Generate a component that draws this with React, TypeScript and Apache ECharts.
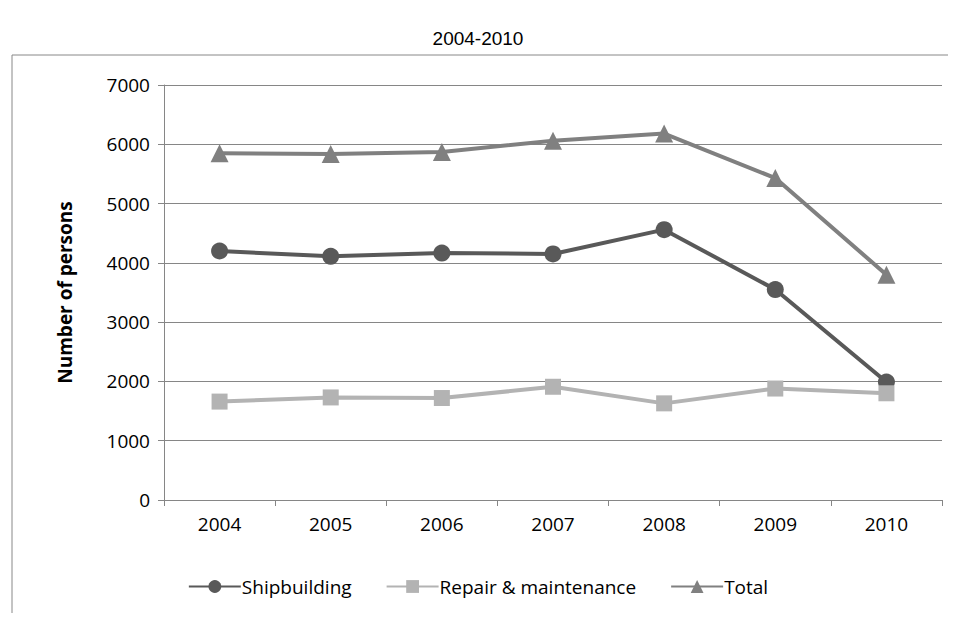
import React, { useEffect, useRef } from "react";
import * as echarts from "echarts";

const categories = ["2004", "2005", "2006", "2007", "2008", "2009", "2010"];
const shipbuilding = [4200, 4110, 4165, 4150, 4560, 3550, 1990];
const repair = [1660, 1730, 1720, 1910, 1630, 1880, 1800];
const total = [5850, 5835, 5870, 6060, 6180, 5430, 3800];

export default function App() {
  const ref = useRef<HTMLDivElement>(null);
  useEffect(() => {
    const chart = echarts.init(ref.current!, null, { renderer: "svg" });
    const font = "'Open Sans', 'Liberation Sans', Arial, sans-serif";
    const mk = (name: string, data: number[], color: string, symbol: string, size: number) => ({
      name, type: "line", data, symbol, symbolSize: size,
      lineStyle: { color, width: 4 }, itemStyle: { color },
    });
    chart.setOption({
      animation: false,
      title: { text: "2004-2010", left: "center", top: 16, textStyle: { fontFamily: "'Liberation Sans', Arial", fontSize: 19, fontWeight: "normal", color: "#000" } },
      graphic: [
        { type: "line", shape: { x1: 4, y1: 47, x2: 960, y2: 47 }, style: { stroke: "#888", lineWidth: 1 } },
        { type: "line", shape: { x1: 4, y1: 47, x2: 4, y2: 621 }, style: { stroke: "#888", lineWidth: 1 } },
      ],
      legend: {
        bottom: 12, left: "center", itemWidth: 52, itemHeight: 16, itemGap: 34,
        textStyle: { fontFamily: font, fontSize: 19, color: "#000", padding: [0, 0, 0, -4] },
        data: ["Shipbuilding", "Repair & maintenance", "Total"],
      },
      grid: { left: 156, right: 6, top: 77, bottom: 113 },
      xAxis: {
        type: "category", data: categories, boundaryGap: true,
        axisLine: { lineStyle: { color: "#868686" } },
        axisTick: { show: true, length: 6, lineStyle: { color: "#868686" } },
        axisLabel: { fontFamily: font, fontSize: 19, color: "#000", margin: 14 },
      },
      yAxis: {
        type: "value", min: 0, max: 7000, interval: 1000,
        name: "Number of persons", nameLocation: "middle", nameGap: 90,
        nameTextStyle: { fontFamily: font, fontSize: 19, fontWeight: "bold", color: "#000" },
        axisLine: { show: true, lineStyle: { color: "#868686" } },
        axisTick: { show: true, length: 6, lineStyle: { color: "#868686" } },
        axisLabel: { fontFamily: font, fontSize: 19, color: "#000", margin: 14, formatter: (v: number) => String(v) },
        splitLine: { lineStyle: { color: "#868686" } },
      },
      series: [
        mk("Shipbuilding", shipbuilding, "#595959", "circle", 17),
        mk("Repair & maintenance", repair, "#b3b3b3", "rect", 16),
        mk("Total", total, "#808080", "triangle", 18),
      ],
    });
    return () => chart.dispose();
  }, []);
  return <div ref={ref} style={{ width: 940, height: 605 }} />;
}
